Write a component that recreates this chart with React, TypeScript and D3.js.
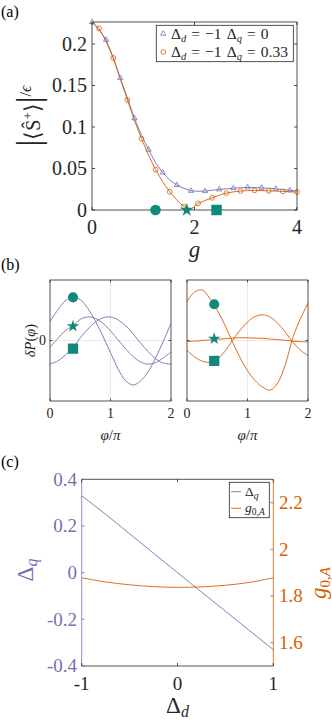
import React from "react";
import * as d3 from "d3";

// ---------- Panel (a) data ----------
const gValues = [0, 0.138, 0.276, 0.414, 0.552, 0.69, 0.828, 0.966, 1.103, 1.241, 1.379, 1.517, 1.655, 1.793, 1.931, 2.069, 2.207, 2.345, 2.483, 2.621, 2.759, 2.897, 3.034, 3.172, 3.31, 3.448, 3.586, 3.724, 3.862, 4.0];
const sDq0 = [0.2265, 0.217, 0.205, 0.184, 0.159, 0.135, 0.1105, 0.09, 0.0727, 0.057, 0.0451, 0.036, 0.03, 0.026, 0.0231, 0.0226, 0.0228, 0.0238, 0.0248, 0.0256, 0.0263, 0.0268, 0.0272, 0.027, 0.0267, 0.0262, 0.0255, 0.0246, 0.0236, 0.023];
const sDq033 = [0.2265, 0.2188, 0.203, 0.1832, 0.158, 0.1326, 0.108, 0.0859, 0.066, 0.0487, 0.034, 0.0219, 0.012, 0.004, 0.001, 0.008, 0.0115, 0.0147, 0.0178, 0.0204, 0.0218, 0.0228, 0.0233, 0.0236, 0.0234, 0.0231, 0.0228, 0.0224, 0.022, 0.0216];
const gMarkers = [1.24, 1.85, 2.43];
const aXTicks = [0, 2, 4];
const aYTicks = [0, 0.05, 0.1, 0.15, 0.2];
const aYTickLabels = ["0", "0.05", "0.1", "0.15", "0.2"];

// ---------- Panel (b) data ----------
const phi = [0, 0.125, 0.25, 0.375, 0.5, 0.625, 0.75, 0.875, 1.0, 1.125, 1.25, 1.375, 1.5, 1.625, 1.75, 1.875, 2.0];
const leftCircle = [0.315, 0.5, 0.655, 0.713, 0.675, 0.53, 0.32, 0.07, -0.2, -0.47, -0.665, -0.735, -0.666, -0.51, -0.28, -0.005, 0.285];
const leftStar = [-0.11, 0.03, 0.16, 0.24, 0.35, 0.39, 0.364, 0.284, 0.159, 0.011, -0.139, -0.267, -0.356, -0.39, -0.364, -0.284, -0.19];
const leftSquare = [-0.387, -0.341, -0.244, -0.13, 0.044, 0.187, 0.305, 0.375, 0.388, 0.341, 0.244, 0.108, -0.044, -0.187, -0.305, -0.375, -0.388];
const rightCircle = [0.646, 0.8, 0.835, 0.7, 0.5, 0.26, -0.02, -0.28, -0.5, -0.66, -0.77, -0.82, -0.7, -0.4, 0.05, 0.36, 0.62];
const rightStar = [-0.02, -0.01, 0.0, 0.01, 0.02, 0.03, 0.04, 0.045, 0.045, 0.04, 0.035, 0.025, 0.015, 0.003, -0.01, -0.018, -0.025];
const rightSquare = [-0.16, -0.27, -0.34, -0.36, -0.31, -0.18, 0.0, 0.166, 0.306, 0.397, 0.425, 0.387, 0.285, 0.14, -0.03, -0.16, -0.25];
const bMarkerPhiLeft = 0.38;
const bMarkerPhiRight = 0.45;
const bMarkerLeft = [0.713, 0.235, -0.135];
const bMarkerRight = [0.6, 0.03, -0.337];
const bXTicks = [0, 1, 2];

// ---------- Panel (c) data ----------
const deltaD = [-1, -0.75, -0.5, -0.25, 0, 0.25, 0.5, 0.75, 1];
const deltaQ = [0.33, 0.25, 0.167, 0.083, 0.0, -0.083, -0.165, -0.248, -0.33];
const g0A = [1.878, 1.86, 1.848, 1.84, 1.837, 1.839, 1.846, 1.858, 1.878];
const cXTicks = [-1, 0, 1];
const cLeftTicks = [-0.4, -0.2, 0, 0.2, 0.4];
const cRightTicks = [1.6, 1.8, 2, 2.2];

const FONT = '"Liberation Serif"';
const AX = "#262626";
const PURPLE = "#7570b3";
const ORANGE = "#d95f02";
const TEAL = "#10897b";
const GRID = "#e3e3e3";

function Tx({ it, children, ...rest }: any) {
  return <text {...rest} style={{ fontFamily: FONT, fontStyle: it ? "italic" : "normal" }}>{children}</text>;
}
function Ts({ it, children, ...rest }: any) {
  return <tspan {...rest} style={{ fontFamily: FONT, fontStyle: it ? "italic" : "normal" }}>{children}</tspan>;
}

function PanelA() {
  const x = d3.scaleLinear().domain([0, 4]).range([92, 297]);
  const y = d3.scaleLinear().domain([0, 0.2265]).range([210, 22]);
  const [x0, x1] = x.range();
  const [y0, y1] = [y(0.2265), y(0)];
  const line = d3.line<number>().x((_, i) => x(gValues[i])).y((d) => y(d));
  const tri = d3.symbol(d3.symbolTriangle, 12)()!;
  const shapes = [d3.symbolCircle, d3.symbolStar, d3.symbolSquare];
  const sizes = [88, 55, 110];
  return (
    <g>
      <Tx x={1} y={17} fontSize={16}>(a)</Tx>
      <path d={line(sDq0)!} fill="none" stroke={PURPLE} strokeWidth={0.9} />
      <path d={line(sDq033)!} fill="none" stroke={ORANGE} strokeWidth={0.9} />
      {sDq0.map((v, i) => (i % 2 === 0 ? (
        <path key={"t" + i} d={tri} transform={`translate(${x(gValues[i])},${y(v)})`} fill="none" stroke={PURPLE} strokeWidth={0.8} />
      ) : null))}
      {sDq033.map((v, i) => (i % 2 === 1 ? (
        <circle key={"c" + i} cx={x(gValues[i])} cy={y(v)} r={2.4} fill="none" stroke={ORANGE} strokeWidth={0.8} />
      ) : null))}
      <rect x={x0} y={y0} width={x1 - x0} height={y1 - y0} fill="none" stroke={AX} strokeWidth={0.8} />
      {aXTicks.map((t) => (
        <g key={"xt" + t}>
          <line x1={x(t)} x2={x(t)} y1={y1} y2={y1 - 3} stroke={AX} strokeWidth={0.8} />
          <line x1={x(t)} x2={x(t)} y1={y0} y2={y0 + 3} stroke={AX} strokeWidth={0.8} />
          <Tx x={x(t)} y={234} textAnchor="middle" fontSize={20} fill={AX}>{t}</Tx>
        </g>
      ))}
      {aYTicks.map((t, i) => (
        <g key={"yt" + t}>
          <line x1={x0} x2={x0 + 3} y1={y(t)} y2={y(t)} stroke={AX} strokeWidth={0.8} />
          <line x1={x1} x2={x1 - 3} y1={y(t)} y2={y(t)} stroke={AX} strokeWidth={0.8} />
          <Tx x={87} y={y(t)} dy="0.34em" textAnchor="end" fontSize={20} fill={AX}>{aYTickLabels[i]}</Tx>
        </g>
      ))}
      {gMarkers.map((g, i) => (
        <path key={"m" + i} d={d3.symbol(shapes[i], sizes[i])()!} transform={`translate(${x(g)},${y(0)})`} fill={TEAL} />
      ))}
      <Tx it x={(x0 + x1) / 2} y={257} textAnchor="middle" fontSize={23} fill={AX}>g</Tx>
      <Tx transform="translate(40,116) rotate(-90)" textAnchor="middle" fill={AX} fontSize={20}>
        <Ts fontSize={34}>|</Ts>
        <Ts fontSize={22}>⟨</Ts>
        <Ts>S&#770;</Ts>
        <Ts dy={-8} fontSize={13}>+</Ts>
        <Ts dy={8} fontSize={22}>⟩</Ts>
        <Ts fontSize={34}>|</Ts>
        <Ts fontSize={16} dy={-9}>/</Ts>
        <Ts fontSize={16} it>ϵ</Ts>
      </Tx>
      <rect x={156.3} y={25.3} width={137} height={36.4} fill="white" stroke={AX} strokeWidth={0.8} />
      <path d={tri} transform="translate(163.3,33.7)" fill="none" stroke={PURPLE} strokeWidth={0.8} />
      <circle cx={163.3} cy={52} r={2.4} fill="none" stroke={ORANGE} strokeWidth={0.8} />
      <Tx x={171} y={38.5} fontSize={15.5} fill={AX} wordSpacing={1.2}>
        Δ<Ts fontSize={10.5} it dy={3}>d</Ts><Ts dy={-3}> = −1 Δ</Ts><Ts fontSize={10.5} it dy={3}>q</Ts><Ts dy={-3}> = 0</Ts>
      </Tx>
      <Tx x={171} y={56.8} fontSize={15.5} fill={AX} wordSpacing={1.2}>
        Δ<Ts fontSize={10.5} it dy={3}>d</Ts><Ts dy={-3}> = −1 Δ</Ts><Ts fontSize={10.5} it dy={3}>q</Ts><Ts dy={-3}> = 0.33</Ts>
      </Tx>
    </g>
  );
}

function SubB({ left, series, color, mPhi, mVals, showY }: any) {
  const x = d3.scaleLinear().domain([0, 2]).range([left, left + 121]);
  const y = d3.scaleLinear().domain([-1, 1]).range([401, 280]);
  const line = d3.line<number>().x((_, i) => x(phi[i])).y((d) => y(d)).curve(d3.curveCatmullRom);
  const shapes = [d3.symbolCircle, d3.symbolStar, d3.symbolSquare];
  const sizes = [80, 48, 105];
  const [x0, x1] = x.range();
  const [y1, y0] = y.range();
  const clipId = "clip" + left;
  return (
    <g>
      <defs>
        <clipPath id={clipId}><rect x={x0} y={y0} width={x1 - x0} height={y1 - y0} /></clipPath>
      </defs>
      <line x1={x(1)} x2={x(1)} y1={y0} y2={y1} stroke={GRID} strokeWidth={0.8} />
      <line x1={x0} x2={x1} y1={y(0)} y2={y(0)} stroke={GRID} strokeWidth={0.8} />
      <g clipPath={`url(#${clipId})`}>
        {series.map((s: number[], i: number) => (
          <path key={i} d={line(s)!} fill="none" stroke={color} strokeWidth={0.9} />
        ))}
      </g>
      {mVals.map((v: number, i: number) => (
        <path key={"m" + i} d={d3.symbol(shapes[i], sizes[i])()!} transform={`translate(${x(mPhi)},${y(v)})`} fill={TEAL} />
      ))}
      <rect x={x0} y={y0} width={x1 - x0} height={y1 - y0} fill="none" stroke={AX} strokeWidth={0.8} />
      {bXTicks.map((t) => (
        <g key={t}>
          <line x1={x(t)} x2={x(t)} y1={y1} y2={y1 - 2.5} stroke={AX} strokeWidth={0.8} />
          <line x1={x(t)} x2={x(t)} y1={y0} y2={y0 + 2.5} stroke={AX} strokeWidth={0.8} />
          <Tx x={x(t)} y={417.5} textAnchor="middle" fontSize={14} fill={AX}>{t}</Tx>
        </g>
      ))}
      <line x1={x0} x2={x0 + 2.5} y1={y(0)} y2={y(0)} stroke={AX} strokeWidth={0.8} />
      <line x1={x1} x2={x1 - 2.5} y1={y(0)} y2={y(0)} stroke={AX} strokeWidth={0.8} />
      {showY ? <Tx x={x0 - 4} y={y(0)} dy="0.34em" textAnchor="end" fontSize={14} fill={AX}>0</Tx> : null}
      <Tx x={(x0 + x1) / 2} y={440} textAnchor="middle" fontSize={15} fill={AX}>
        <Ts it>φ</Ts>/<Ts it>π</Ts>
      </Tx>
    </g>
  );
}

function PanelB() {
  return (
    <g>
      <Tx x={1} y={270} fontSize={16}>(b)</Tx>
      <SubB left={50} series={[leftCircle, leftStar, leftSquare]} color={PURPLE} mPhi={bMarkerPhiLeft} mVals={bMarkerLeft} showY={true} />
      <SubB left={187} series={[rightCircle, rightStar, rightSquare]} color={ORANGE} mPhi={bMarkerPhiRight} mVals={bMarkerRight} showY={false} />
      <Tx transform="translate(35,340.5) rotate(-90)" textAnchor="middle" fontSize={14.5} fill={AX}>
        <Ts it>δP</Ts>(<Ts it>φ</Ts>)
      </Tx>
    </g>
  );
}

function PanelC() {
  const x = d3.scaleLinear().domain([-1, 1]).range([81.7, 273.3]);
  const yl = d3.scaleLinear().domain([-0.4, 0.4]).range([666, 479.3]);
  const yr = d3.scaleLinear().domain([1.5, 2.3]).range([666, 479.3]);
  const [x0, x1] = x.range();
  const [y1, y0] = yl.range();
  const lq = d3.line<number>().x((_, i) => x(deltaD[i])).y((d) => yl(d));
  const lg = d3.line<number>().x((_, i) => x(deltaD[i])).y((d) => yr(d)).curve(d3.curveCatmullRom);
  return (
    <g>
      <Tx x={1} y={467} fontSize={16}>(c)</Tx>
      <path d={lq(deltaQ)!} fill="none" stroke={PURPLE} strokeWidth={0.9} />
      <path d={lg(g0A)!} fill="none" stroke={ORANGE} strokeWidth={0.9} />
      <line x1={x0} x2={x1} y1={y0} y2={y0} stroke={AX} strokeWidth={0.8} />
      <line x1={x0} x2={x1} y1={y1} y2={y1} stroke={AX} strokeWidth={0.8} />
      <line x1={x0} x2={x0} y1={y0} y2={y1} stroke={PURPLE} strokeWidth={0.8} />
      <line x1={x1} x2={x1} y1={y0} y2={y1} stroke={ORANGE} strokeWidth={0.8} />
      {cXTicks.map((t) => (
        <g key={t}>
          <line x1={x(t)} x2={x(t)} y1={y1} y2={y1 - 3} stroke={AX} strokeWidth={0.8} />
          <line x1={x(t)} x2={x(t)} y1={y0} y2={y0 + 3} stroke={AX} strokeWidth={0.8} />
          <Tx x={x(t)} y={690} textAnchor="middle" fontSize={19} fill={AX}>{t}</Tx>
        </g>
      ))}
      {cLeftTicks.map((t) => (
        <g key={t}>
          <line x1={x0} x2={x0 + 3} y1={yl(t)} y2={yl(t)} stroke={PURPLE} strokeWidth={0.8} />
          <Tx x={77} y={yl(t)} dy="0.34em" textAnchor="end" fontSize={19} fill={PURPLE}>{t === 0 ? "0" : String(t)}</Tx>
        </g>
      ))}
      {cRightTicks.map((t) => (
        <g key={t}>
          <line x1={x1} x2={x1 - 3} y1={yr(t)} y2={yr(t)} stroke={ORANGE} strokeWidth={0.8} />
          <Tx x={279} y={yr(t)} dy="0.34em" textAnchor="start" fontSize={19} fill={ORANGE}>{String(t)}</Tx>
        </g>
      ))}
      <Tx transform="translate(33,570) rotate(-90)" textAnchor="middle" fontSize={23} fill={PURPLE}>
        Δ<Ts fontSize={16} it dy={4}>q</Ts>
      </Tx>
      <Tx transform="translate(326,583) rotate(-90)" textAnchor="middle" fontSize={23} fill={ORANGE}>
        <Ts it>g</Ts><Ts fontSize={15} dy={4}>0,</Ts><Ts fontSize={15} it>A</Ts>
      </Tx>
      <Tx x={(x0 + x1) / 2} y={713} textAnchor="middle" fontSize={23} fill={AX}>
        Δ<Ts fontSize={16} it dy={4}>d</Ts>
      </Tx>
      <rect x={229.3} y={482.3} width={40} height={35.4} fill="white" stroke={AX} strokeWidth={0.8} />
      <line x1={231} x2={241} y1={491.7} y2={491.7} stroke={PURPLE} strokeWidth={0.9} />
      <line x1={231} x2={241} y1={508.3} y2={508.3} stroke={ORANGE} strokeWidth={0.9} />
      <Tx x={245} y={496} fontSize={13.5} fill={AX}>
        Δ<Ts fontSize={9.5} it dy={3}>q</Ts>
      </Tx>
      <Tx x={245} y={512} fontSize={13.5} fill={AX}>
        <Ts it>g</Ts><Ts fontSize={9.5} dy={3}>0,</Ts><Ts fontSize={9.5} it>A</Ts>
      </Tx>
    </g>
  );
}

export default function App() {
  return (
    <svg width={332} height={723} viewBox="0 0 332 723" style={{ position: "absolute", left: 0, top: 0, background: "white" }}>
      <rect x={0} y={0} width={332} height={723} fill="white" />
      <PanelA />
      <PanelB />
      <PanelC />
    </svg>
  );
}
